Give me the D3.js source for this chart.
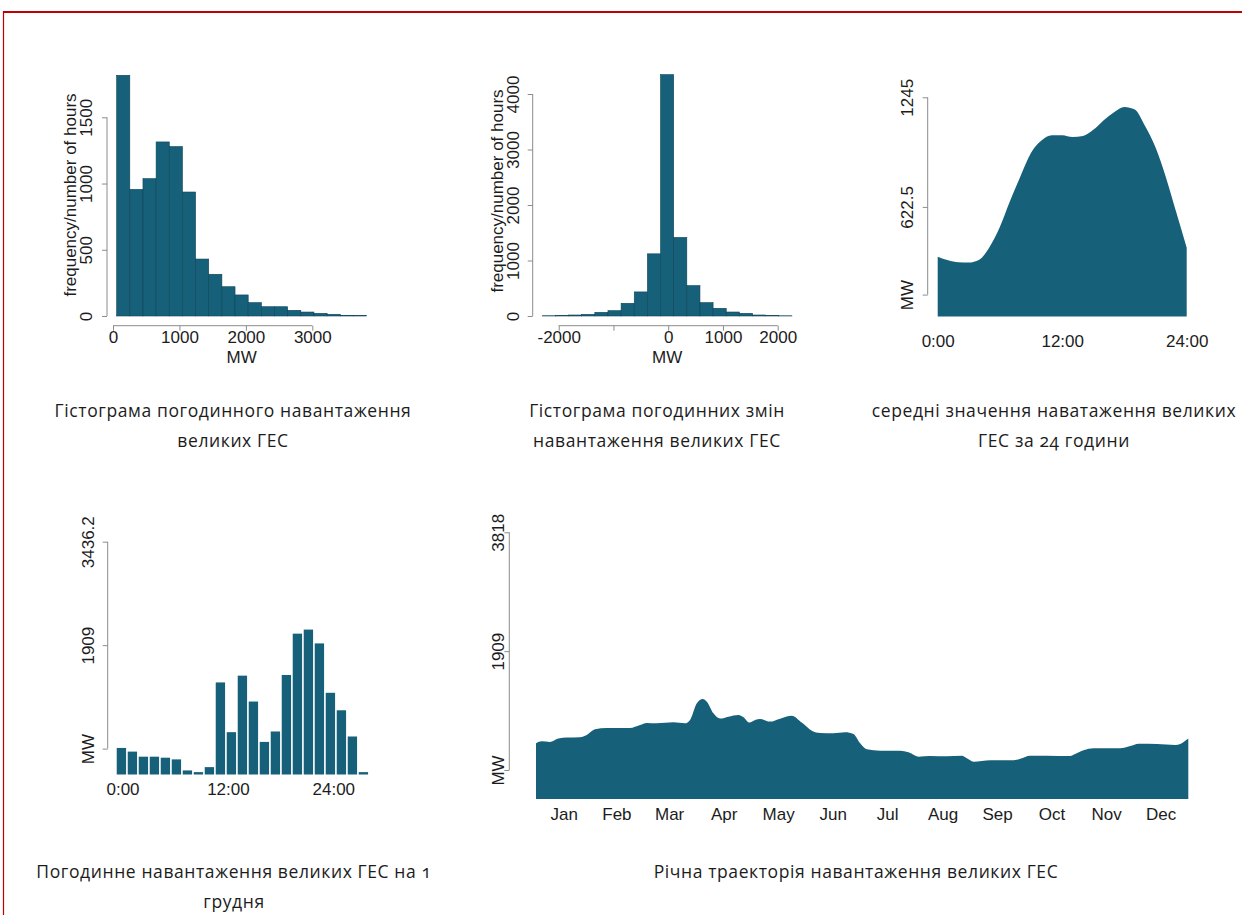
<!DOCTYPE html>
<html>
<head>
<meta charset="utf-8">
<script src="https://cdn.jsdelivr.net/npm/d3@7"></script>
<style>
  html, body { margin: 0; padding: 0; background: #fff; }
  svg { display: block; }
  .tl { font-family: "Liberation Sans", Arial, Helvetica, sans-serif; font-size: 17px; fill: #1c1c1c; }
  .cap { font-family: "Open Sans", "Noto Sans", sans-serif; font-size: 17.5px; letter-spacing: 0.6px; fill: #1c1c1c; font-feature-settings: "onum"; }
</style>
</head>
<body>
<svg id="chart" width="1242" height="915"></svg>
<script>
// ---- Histogram of hourly load (counts per MW bin) ----
const loadBinStart = 55;
const loadBinWidth = 198;
const loadCounts = [1817, 956, 1037, 1314, 1279, 936, 430, 315, 221, 159, 101, 70, 70, 43, 30, 20, 13, 5, 3];
const loadTicksX = [0, 1000, 2000, 3000];
const loadTicksY = [0, 500, 1000, 1500];

// ---- Histogram of hour-to-hour load changes ----
const changeBinStart = -2300;
const changeBinWidth = 240;
const changeCounts = [5, 8, 18, 30, 66, 96, 229, 434, 1120, 4349, 1416, 548, 241, 139, 72, 48, 18, 6, 4];
const changeTicksX = [-2000, -1000, 0, 1000, 2000];
const changeTickLabelsX = ["-2000", "", "0", "1000", "2000"];
const changeTicksY = [0, 1000, 2000, 3000, 4000];

// ---- Mean load by hour of day ----
const profileHours = [0, 1, 2, 3, 4, 5, 6, 7, 8, 9, 10, 11, 12, 13, 14, 15, 16, 17, 18, 19, 20, 21, 22, 23, 24];
const profileLoad = [340, 320, 308, 306, 322, 395, 510, 660, 800, 930, 1000, 1030, 1030, 1020, 1025, 1060, 1115, 1160, 1190, 1175, 1080, 960, 790, 590, 390];
const profileTicksY = [124.5, 622.5, 1245];
const profileTickLabelsY = ["MW", "622.5", "1245"];
const hourTicks = [0, 12, 24];
const hourTickLabels = ["0:00", "12:00", "24:00"];

// ---- Hourly load on 1 December ----
const decHours = d3.range(1, 24);
const decLoad = [392, 338, 263, 263, 248, 223, 60, 35, 109, 1359, 625, 1459, 1077, 481, 635, 1469, 2079, 2139, 1935, 1206, 948, 561, 35];
const decTicksY = [381.8, 1909, 3436.2];
const decTickLabelsY = ["MW", "1909", "3436.2"];

// ---- Annual trajectory (day of year, MW) ----
const annualDay = [0, 3.2, 7.8, 12.5, 17.2, 24.6, 28.4, 33.0, 39.6, 45.2, 52.6, 58.2, 62.0, 67.6, 76.9, 83.4, 86.2, 90.0, 93.3, 95.6, 99.3, 103.0, 107.7, 113.3, 116.1, 119.4, 122.6, 125.4, 131.0, 136.6, 143.1, 148.7, 154.3, 159.0, 166.4, 173.0, 177.6, 181.4, 185.1, 192.6, 203.8, 208.4, 214.0, 220.6, 229.9, 238.3, 241.1, 244.8, 254.2, 267.2, 271.0, 276.5, 285.9, 298.9, 301.7, 306.4, 312.0, 326.9, 332.5, 337.2, 347.5, 357.7, 360.5, 365];
const annualLoad = [429, 461, 450, 504, 520, 525, 563, 654, 675, 675, 675, 723, 756, 750, 766, 750, 804, 1072, 1142, 1098, 911, 826, 857, 884, 847, 761, 804, 820, 777, 825, 873, 761, 632, 595, 590, 606, 579, 429, 333, 310, 310, 284, 214, 225, 220, 230, 188, 134, 156, 156, 182, 230, 230, 225, 257, 317, 349, 349, 386, 423, 418, 402, 418, 504];
const annualTicksY = [0, 1909, 3818];
const annualTickLabelsY = ["MW", "1909", "3818"];
const monthLabels = ["Jan", "Feb", "Mar", "Apr", "May", "Jun", "Jul", "Aug", "Sep", "Oct", "Nov", "Dec"];
const monthMidDays = [15.5, 45, 74.5, 105, 135.5, 166, 196.5, 227.5, 258, 288.5, 319, 349.5];

// ---- Captions ----
const captions = [
  ["Гістограма погодинного навантаження", "великих ГЕС"],
  ["Гістограма погодинних змін", "навантаження великих ГЕС"],
  ["середні значення наватаження великих", "ГЕС за 24 години"],
  ["Погодинне навантаження великих ГЕС на 1", "грудня"],
  ["Річна траекторія навантаження великих ГЕС"]
];

const FILL = "#17607a";
const EDGE = "#0e4557";
const AXIS = "#8c8c8c";

const svg = d3.select("#chart");

// red frame
svg.append("line").attr("x1", 3).attr("x2", 1242).attr("y1", 12).attr("y2", 12)
  .attr("stroke", "#c00000").attr("stroke-width", 2);
svg.append("line").attr("x1", 3.5).attr("x2", 3.5).attr("y1", 11).attr("y2", 915)
  .attr("stroke", "#c00000").attr("stroke-width", 1.2);

// left axis with rotated labels; axis line runs between first and last tick
function leftAxis(y, ticks, labels, x0, labelOffset) {
  const g = svg.append("g").attr("transform", `translate(${x0},0)`);
  g.call(d3.axisLeft(y).tickValues(ticks).tickSize(5).tickFormat((d, i) => labels[i]));
  g.select(".domain").remove();
  g.selectAll(".tick line").attr("stroke", AXIS).attr("stroke-width", 1);
  g.selectAll(".tick text")
    .attr("class", "tl").attr("font-family", null).attr("font-size", null)
    .attr("x", null).attr("dy", null)
    .attr("text-anchor", "middle")
    .attr("transform", `translate(${-labelOffset},0) rotate(-90)`);
  g.append("line").attr("x1", 0).attr("x2", 0)
    .attr("y1", y(d3.min(ticks))).attr("y2", y(d3.max(ticks)))
    .attr("stroke", AXIS).attr("stroke-width", 1);
  return g;
}

// bottom axis, with or without line/ticks
function bottomAxis(x, ticks, labels, y0, labelBaseline, withLine) {
  const g = svg.append("g").attr("transform", `translate(0,${y0})`);
  g.call(d3.axisBottom(x).tickValues(ticks).tickSize(withLine ? 5 : 0).tickFormat((d, i) => labels[i]));
  g.select(".domain").remove();
  g.selectAll(".tick line").attr("stroke", AXIS).attr("stroke-width", 1);
  g.selectAll(".tick text")
    .attr("class", "tl").attr("font-family", null).attr("font-size", null)
    .attr("y", labelBaseline).attr("dy", null).attr("text-anchor", "middle");
  if (withLine) {
    g.append("line").attr("y1", 0).attr("y2", 0)
      .attr("x1", x(d3.min(ticks))).attr("x2", x(d3.max(ticks)))
      .attr("stroke", AXIS).attr("stroke-width", 1);
  }
  return g;
}

function rotatedTitle(text, x, y) {
  svg.append("text").attr("class", "tl").attr("text-anchor", "middle")
    .attr("transform", `translate(${x},${y}) rotate(-90)`).text(text);
}

// ===== Panel 1: histogram of hourly load =====
{
  const x = d3.scaleLinear().domain([0, 3000]).range([113, 312.3]);
  const y = d3.scaleLinear().domain([0, 1500]).range([316, 117.3]);
  const bins = loadCounts.map((c, i) => ({ x0: loadBinStart + i * loadBinWidth, x1: loadBinStart + (i + 1) * loadBinWidth, c }));
  svg.append("g").selectAll("rect").data(bins).join("rect")
    .attr("x", d => x(d.x0)).attr("width", d => x(d.x1) - x(d.x0))
    .attr("y", d => y(d.c)).attr("height", d => y(0) - y(d.c))
    .attr("fill", FILL).attr("stroke", EDGE).attr("stroke-width", 0.6);
  leftAxis(y, loadTicksY, loadTicksY.map(String), 107, 15.5);
  bottomAxis(x, loadTicksX, loadTicksX.map(String), 325.7, 17.8, true);
  const xmid = (x(bins[0].x0) + x(bins[bins.length - 1].x1)) / 2;
  svg.append("text").attr("class", "tl").attr("text-anchor", "middle").attr("x", xmid).attr("y", 363).text("MW");
  rotatedTitle("frequency/number of hours", 76, 195);
}

// ===== Panel 2: histogram of hourly changes =====
{
  const x = d3.scaleLinear().domain([-2000, 2000]).range([558.7, 777.7]);
  const y = d3.scaleLinear().domain([0, 4000]).range([316, 94]);
  const bins = changeCounts.map((c, i) => ({ x0: changeBinStart + i * changeBinWidth, x1: changeBinStart + (i + 1) * changeBinWidth, c }));
  svg.append("g").selectAll("rect").data(bins).join("rect")
    .attr("x", d => x(d.x0)).attr("width", d => x(d.x1) - x(d.x0))
    .attr("y", d => y(d.c)).attr("height", d => y(0) - y(d.c))
    .attr("fill", FILL).attr("stroke", EDGE).attr("stroke-width", 0.6);
  leftAxis(y, changeTicksY, changeTicksY.map(String), 532.7, 14);
  bottomAxis(x, changeTicksX, changeTickLabelsX, 325.7, 17.8, true);
  const xmid = (x(bins[0].x0) + x(bins[bins.length - 1].x1)) / 2;
  svg.append("text").attr("class", "tl").attr("text-anchor", "middle").attr("x", xmid).attr("y", 363).text("MW");
  rotatedTitle("frequency/number of hours", 503, 191);
}

// ===== Panel 3: mean daily profile =====
{
  const x = d3.scaleLinear().domain([0, 24]).range([937.7, 1186.7]);
  const y = d3.scaleLinear().domain([0, 1245]).range([316.5, 97.3]);
  const area = d3.area().x((d, i) => x(profileHours[i])).y0(y(0)).y1(d => y(d)).curve(d3.curveMonotoneX);
  svg.append("path").datum(profileLoad).attr("d", area).attr("fill", FILL);
  leftAxis(y, profileTicksY, profileTickLabelsY, 927.7, 15);
  bottomAxis(x, hourTicks, hourTickLabels, 327, 20, false);
}

// ===== Panel 4: hourly load on 1 December =====
{
  const x = d3.scaleBand().domain(decHours).range([115.9, 368.9]).paddingInner(0.15).paddingOuter(0.075);
  const y = d3.scaleLinear().domain([0, 3436.2]).range([774.5, 541.7]);
  svg.append("g").selectAll("rect").data(decLoad).join("rect")
    .attr("x", (d, i) => x(decHours[i])).attr("width", x.bandwidth())
    .attr("y", d => y(d)).attr("height", d => y(0) - y(d))
    .attr("fill", FILL);
  leftAxis(y, decTicksY, decTickLabelsY, 107.7, 14);
  const xt = d3.scaleLinear().domain([0, 24]).range([122.5, 333.3]);
  bottomAxis(xt, hourTicks, hourTickLabels, 775, 20, false);
}

// ===== Panel 5: annual trajectory =====
{
  const x = d3.scaleLinear().domain([0, 365]).range([536, 1188.3]);
  const y = d3.scaleLinear().domain([-466, 3818]).range([799, 532.3]);
  const area = d3.area().x((d, i) => x(annualDay[i])).y0(y(-466)).y1(d => y(d)).curve(d3.curveMonotoneX);
  svg.append("path").datum(annualLoad).attr("d", area).attr("fill", FILL);
  leftAxis(y, annualTicksY, annualTickLabelsY, 509.3, 5);
  bottomAxis(x, monthMidDays, monthLabels, 799, 21, false);
}

// ===== Captions =====
const capCenters = [[233, 411], [657, 411], [1054, 411], [234, 872], [856, 872]];
captions.forEach((lines, k) => {
  const t = svg.append("text").attr("class", "cap").attr("text-anchor", "middle");
  lines.forEach((s, j) => {
    t.append("tspan").attr("x", capCenters[k][0]).attr("y", capCenters[k][1] + 6 + j * 29.5).text(s);
  });
});
</script>
</body>
</html>
